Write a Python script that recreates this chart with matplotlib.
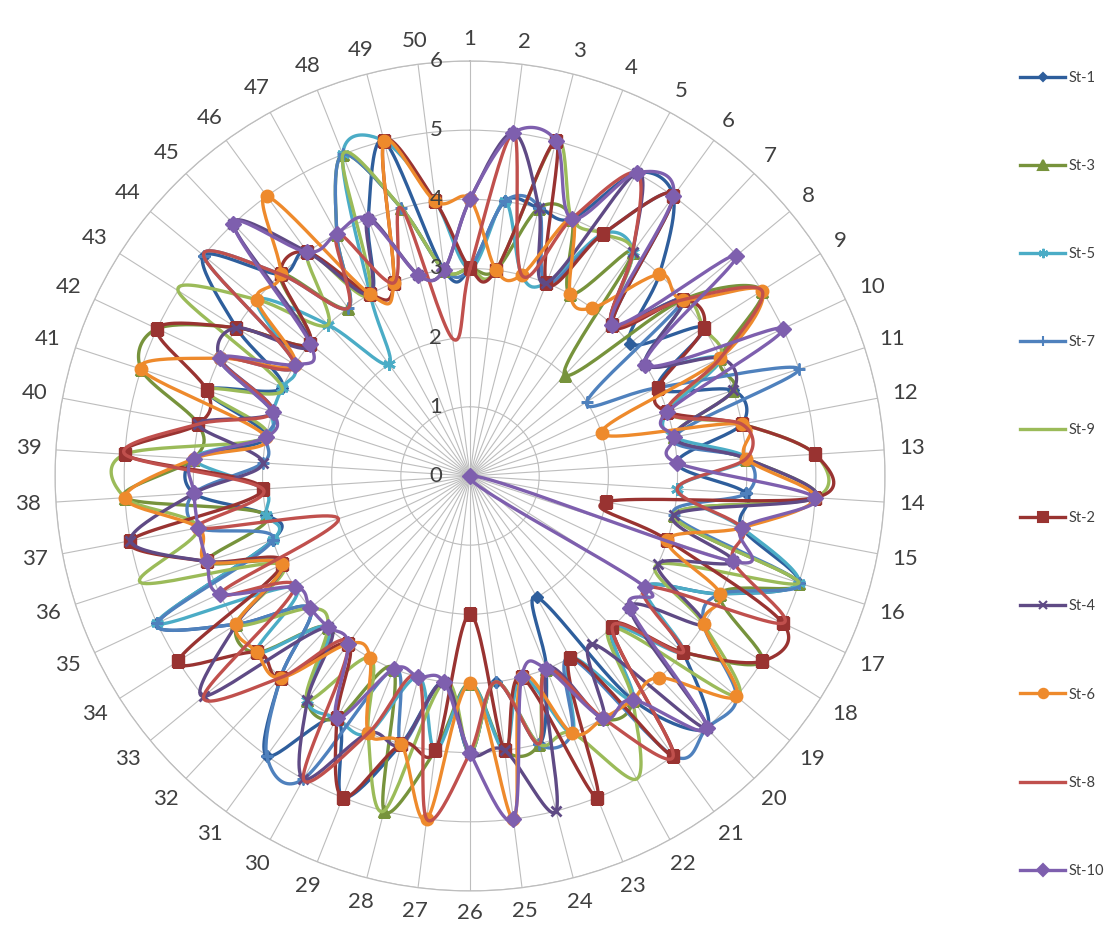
import numpy as np
import matplotlib.pyplot as plt
from matplotlib.lines import Line2D

plt.rcParams['font.family'] = ['Lato', 'DejaVu Sans']

categories = list(range(1, 51))

st1 = [3, 4, 4, 4, 5, 5, 4, 3, 4, 3, 4, 4, 3, 4, 4, 5, 4, 3, 4, 5,
       4, 2, 3, 4, 3, 4, 3, 4, 5, 4, 5, 4, 3, 4, 5, 3, 3, 4, 4, 3,
       4, 3, 4, 5, 4, 4, 3, 4, 5, 3]
st3 = [3, 3, 4, 4, 3, 4, 2, 4, 5, 4, 4, 3, 4, 5, 3, 5, 4, 5, 4, 3,
       4, 4, 3, 4, 4, 3, 4, 5, 3, 4, 4, 3, 4, 4, 3, 4, 3, 5, 4, 4,
       5, 5, 4, 3, 4, 3, 4, 5, 4, 3]
st5 = [3, 4, 3, 3, 4, 4, 3, 4, 3, 4, 3, 3, 4, 3, 4, 5, 4, 3, 4, 3,
       4, 3, 4, 3, 4, 3, 4, 3, 4, 4, 4, 3, 4, 3, 5, 3, 3, 3, 4, 3,
       3, 3, 3, 4, 3, 2, 3, 5, 5, 4]
st7 = [3, 4, 4, 3, 4, 5, 3, 4, 2, 3, 5, 3, 4, 4, 3, 5, 4, 4, 5, 5,
       5, 3, 4, 4, 3, 4, 3, 4, 3, 5, 5, 4, 3, 4, 5, 3, 4, 4, 3, 3,
       3, 4, 3, 5, 4, 3, 4, 5, 4, 3]
st9 = [3, 3, 5, 4, 4, 4, 3, 4, 4, 4, 3, 4, 5, 5, 3, 5, 3, 4, 5, 3,
       4, 5, 4, 4, 3, 4, 3, 5, 4, 3, 4, 3, 3, 4, 3, 5, 4, 5, 5, 3,
       4, 3, 5, 4, 3, 4, 3, 5, 4, 3]
st2 = [3, 3, 5, 3, 4, 5, 3, 4, 4, 3, 3, 4, 5, 5, 2, 3, 5, 5, 4, 3,
       5, 3, 5, 3, 4, 2, 4, 4, 5, 4, 3, 4, 4, 5, 3, 4, 5, 3, 5, 4,
       4, 5, 4, 3, 4, 4, 3, 3, 5, 4]
st4 = [4, 5, 4, 3, 5, 4, 3, 4, 3, 4, 4, 3, 4, 5, 3, 4, 3, 4, 3, 5,
       3, 4, 3, 5, 4, 4, 3, 4, 4, 5, 4, 3, 5, 4, 3, 4, 5, 4, 3, 4,
       3, 4, 4, 3, 5, 4, 3, 4, 3, 3]
st6 = [4, 3, 3, 4, 3, 3, 4, 4, 5, 4, 2, 4, 4, 5, 4, 3, 4, 4, 5, 4,
       4, 4, 4, 3, 5, 3, 5, 4, 4, 3, 3, 4, 4, 4, 3, 4, 4, 5, 4, 3,
       5, 4, 3, 4, 4, 5, 3, 3, 5, 4]
st8 = [3, 5, 3, 4, 5, 4, 3, 4, 5, 4, 3, 4, 4, 3, 4, 4, 5, 3, 4, 3,
       5, 4, 3, 4, 3, 4, 5, 3, 4, 5, 3, 4, 5, 3, 4, 2, 4, 3, 5, 4,
       3, 4, 3, 5, 4, 3, 4, 3, 4, 2]
st10 = [4, 5, 5, 4, 5, 5, 3, 5, 3, 5, 3, 3, 3, 5, 4, 4, 0, 3, 3, 5,
        4, 4, 3, 3, 5, 4, 3, 3, 3, 4, 3, 3, 3, 3, 4, 4, 4, 4, 4, 3,
        3, 4, 3, 3, 5, 4, 4, 4, 3, 3]

names = ["St-1", "St-3", "St-5", "St-7", "St-9", "St-2", "St-4", "St-6", "St-8", "St-10"]
values = [st1, st3, st5, st7, st9, st2, st4, st6, st8, st10]

# style per series: colour, marker, marker size
styles = [
    ("#2E5E9C", "D", 6),
    ("#77933C", "^", 9),
    ("#4BACC6", (6, 2, 0), 9),
    ("#4F81BD", "+", 9),
    ("#9BBB59", None, 0),
    ("#993331", "s", 9),
    ("#5F4A85", "x", 7),
    ("#EE8A2C", "o", 9),
    ("#C0504D", None, 0),
    ("#7E5FAE", "D", 8),
]

n = len(categories)
angles = np.arange(n) * 2 * np.pi / n


def smooth(vals, steps=24):
    # closed Catmull-Rom curve in cartesian space, back to polar
    r = np.array(vals, dtype=float)
    px = r * np.sin(angles)
    py = r * np.cos(angles)
    xs, ys = [], []
    t = np.linspace(0, 1, steps, endpoint=False)
    for i in range(n):
        i0, i1, i2, i3 = (i - 1) % n, i, (i + 1) % n, (i + 2) % n
        for p, out in ((px, xs), (py, ys)):
            p0, p1, p2, p3 = p[i0], p[i1], p[i2], p[i3]
            out.extend(0.5 * (2 * p1 + (-p0 + p2) * t
                              + (2 * p0 - 5 * p1 + 4 * p2 - p3) * t ** 2
                              + (-p0 + 3 * p1 - 3 * p2 + p3) * t ** 3))
    xs.append(xs[0])
    ys.append(ys[0])
    xs, ys = np.array(xs), np.array(ys)
    th = np.unwrap(np.arctan2(xs, ys))
    return th, np.hypot(xs, ys)


fig = plt.figure(figsize=(11.19, 9.32), dpi=100)
ax = fig.add_axes([0.0492, 0.0440, 0.7417, 0.8906], projection="polar")
ax.set_theta_zero_location("N")
ax.set_theta_direction(-1)
ax.set_ylim(0, 6)

handles = []
for k, (name, vals) in enumerate(zip(names, values)):
    color, marker, ms = styles[k]
    th, rr = smooth(vals)
    ax.plot(th, rr, color=color, lw=2.4, zorder=3 + k, solid_capstyle="round")
    if marker is not None:
        ax.plot(angles, vals, ls="none", marker=marker, ms=ms, color=color,
                mec=color, mew=2 if marker in ("+", "x") or isinstance(marker, tuple) else 1,
                zorder=3 + k)
    handles.append(Line2D([], [], color=color, lw=2.4, marker=marker,
                          ms=ms * 0.75 if ms else 0, mew=1.5))

# category labels: text box kept a fixed gap outside the outer ring
ax.set_xticks(angles)
ax.set_xticklabels([])
for a, c in zip(angles, categories):
    lab = str(c)
    half_w = 6.5 * len(lab)
    d = 14 + half_w * abs(np.sin(a)) + 8 * abs(np.cos(a))
    ax.annotate(lab, xy=(a, 6), xytext=(d * np.sin(a) * 0.72, d * np.cos(a) * 0.72),
                textcoords="offset points", ha="center", va="center",
                fontsize=16, color="#404040", annotation_clip=False)

ax.set_yticks(range(7))
ax.set_yticklabels([])
for r in range(7):
    ax.annotate(str(r), xy=(0, r), xytext=(-20, 0), textcoords="offset points",
                ha="right", va="center", fontsize=16, color="#404040", zorder=20)

ax.grid(color="#BDBDBD", lw=0.8)
ax.spines["polar"].set_color("#BDBDBD")
ax.spines["polar"].set_linewidth(0.9)

fig.legend(handles, names, loc="upper left", bbox_to_anchor=(1020 / 1119, 1 - 71 / 932),
           frameon=False, fontsize=10.5, handlelength=3.1, handletextpad=0.2,
           labelspacing=5.08, borderpad=0, borderaxespad=0, labelcolor="#404040")

fig.savefig("out.png", dpi=100)
